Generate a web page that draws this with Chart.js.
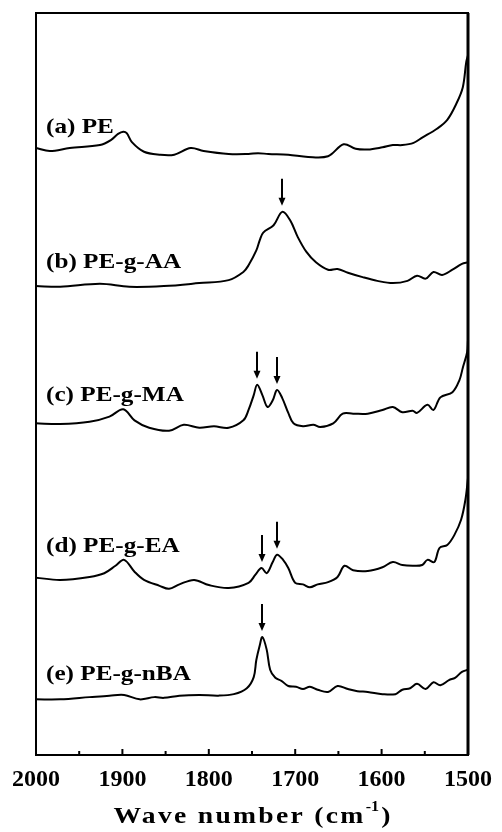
<!DOCTYPE html>
<html>
<head>
<meta charset="utf-8">
<script src="https://cdn.jsdelivr.net/npm/chart.js@4/dist/chart.umd.min.js"></script>
<style>
  html, body { margin: 0; padding: 0; background: #fff; }
  canvas { display: block; }
</style>
</head>
<body>
<canvas id="ftir" width="502" height="832"></canvas>
<script>
// FTIR spectra of PE and grafted PE samples, stacked (absorbance, arbitrary units)
const seriesNames = ['(a) PE', '(b) PE-g-AA', '(c) PE-g-MA', '(d) PE-g-EA', '(e) PE-g-nBA'];

const waveA = [2000,1984,1961,1926,1913,1905,1899,1895,1889,1875,1857,1840,1821,1806,1777,1754,1743,1731,1708,1685,1662,1644,1630,1616,1599,1587,1576,1563,1553,1536,1524,1513,1506,1502,1500];
const absA  = [81.8,81.4,81.8,82.2,82.9,83.7,84.0,83.8,82.6,81.3,80.9,80.9,81.8,81.4,81.0,81.0,81.1,81.0,80.9,80.6,80.7,82.3,81.7,81.6,81.9,82.2,82.2,82.5,83.2,84.4,85.6,87.9,90.0,93.4,94.3];

const waveB = [2000,1972,1926,1892,1852,1811,1777,1760,1754,1745,1741,1737,1725,1715,1706,1697,1687,1676,1662,1651,1639,1622,1605,1587,1570,1559,1549,1540,1530,1518,1507,1500];
const absB  = [63.2,63.1,63.5,63.1,63.2,63.6,64.0,65.1,66.0,68.0,69.4,70.4,71.4,73.2,72.1,69.8,67.8,66.4,65.4,65.5,65.0,64.4,63.9,63.6,63.9,64.6,64.2,65.1,64.7,65.4,66.2,66.4];

const waveC = [2000,1972,1938,1915,1899,1886,1869,1846,1829,1811,1794,1777,1760,1754,1748,1744,1738,1732,1726,1721,1715,1708,1702,1691,1679,1671,1656,1645,1633,1616,1599,1587,1576,1564,1559,1547,1540,1532,1518,1510,1506,1501,1500];
const absC  = [44.7,44.6,44.9,45.6,46.6,45.1,44.1,43.7,44.5,44.1,44.3,44.1,45.1,46.5,48.5,49.9,48.5,46.9,47.8,49.2,48.1,46.1,44.7,44.3,44.5,44.2,44.7,46.0,46.0,46.0,46.5,46.9,46.2,46.4,46.1,47.2,46.5,48.2,48.9,50.5,52.2,54.3,55.9];

const waveD = [2000,1972,1938,1921,1908,1898,1886,1875,1857,1846,1834,1817,1800,1777,1754,1746,1739,1733,1726,1721,1714,1708,1700,1691,1683,1674,1662,1651,1643,1633,1616,1599,1587,1576,1564,1553,1547,1539,1533,1524,1516,1508,1503,1500];
const absD  = [23.9,23.6,24.0,24.5,25.5,26.3,24.7,23.6,22.8,22.4,23.0,23.6,22.9,22.5,23.2,24.3,25.2,24.5,26.0,27.0,26.3,25.2,23.2,23.0,22.6,23.0,23.3,24.0,25.5,24.9,24.8,25.3,26.0,25.6,25.5,25.6,26.3,26.0,27.9,28.3,29.6,31.7,34.4,37.3];

const waveE = [2000,1972,1938,1915,1898,1880,1863,1852,1834,1811,1789,1771,1756,1748,1745,1741,1738,1733,1729,1723,1716,1708,1699,1691,1683,1674,1662,1651,1639,1628,1616,1599,1584,1576,1567,1559,1549,1540,1532,1522,1515,1507,1500];
const absE  = [7.5,7.5,7.8,8.0,8.1,7.5,7.8,7.7,8.0,8.1,8.0,8.2,9.0,10.5,12.8,14.8,15.9,14.2,11.5,10.4,10.0,9.3,9.2,8.9,9.2,8.8,8.5,9.3,8.9,8.6,8.5,8.2,8.2,8.8,9.0,9.6,8.9,9.8,9.4,10.1,10.4,11.2,11.5];

// carbonyl bands marked with arrows, per spectrum (cm-1)
const peaksA = [];
const peaksB = [1715];
const peaksC = [1744, 1721];
const peaksD = [1739, 1721];
const peaksE = [1738];

const xTickValues = [2000, 1900, 1800, 1700, 1600, 1500];
const xMinorValues = [1950, 1850, 1750, 1650, 1550];

const waves = [waveA, waveB, waveC, waveD, waveE];
const absorb = [absA, absB, absC, absD, absE];
const peaks = [peaksA, peaksB, peaksC, peaksD, peaksE];

const SERIF = '"Liberation Serif", "Times New Roman", serif';

const datasets = seriesNames.map((name, i) => ({
  label: name,
  data: waves[i].map((w, k) => ({ x: w, y: absorb[i][k] })),
  borderColor: '#000',
  borderWidth: 2,
  pointRadius: 0,
  tension: 0.35,
  fill: false
}));

function valueAt(ds, w) {
  const d = ds.data;
  for (let k = 0; k < d.length - 1; k++) {
    const a = d[k], b = d[k + 1];
    if ((w <= a.x && w >= b.x) || (w >= a.x && w <= b.x)) {
      const t = (w - a.x) / (b.x - a.x || 1);
      return a.y + t * (b.y - a.y);
    }
  }
  return d[d.length - 1].y;
}

const decorations = {
  id: 'decorations',
  afterDatasetsDraw(chart) {
    const { ctx, chartArea: ca, scales: { x, y } } = chart;
    ctx.save();
    ctx.strokeStyle = '#000';
    ctx.fillStyle = '#000';

    // frame
    ctx.lineWidth = 2;
    ctx.strokeRect(ca.left, ca.top, ca.right - ca.left, ca.bottom - ca.top);
    ctx.lineWidth = 3;
    ctx.beginPath();
    ctx.moveTo(ca.right, ca.top); ctx.lineTo(ca.right, ca.bottom);
    ctx.stroke();

    // inward ticks on the bottom axis
    ctx.lineWidth = 2;
    xTickValues.forEach(v => {
      const px = x.getPixelForValue(v);
      ctx.beginPath(); ctx.moveTo(px, ca.bottom); ctx.lineTo(px, ca.bottom - 6); ctx.stroke();
    });
    xMinorValues.forEach(v => {
      const px = x.getPixelForValue(v);
      ctx.beginPath(); ctx.moveTo(px, ca.bottom); ctx.lineTo(px, ca.bottom - 4); ctx.stroke();
    });

    // arrows over the marked bands
    chart.data.datasets.forEach((ds, i) => {
      peaks[i].forEach(w => {
        const px = Math.round(x.getPixelForValue(w));
        const tip = y.getPixelForValue(valueAt(ds, w)) - 6;
        const top = tip - 27;
        ctx.lineWidth = 2;
        ctx.beginPath(); ctx.moveTo(px, top); ctx.lineTo(px, tip - 6); ctx.stroke();
        ctx.beginPath();
        ctx.moveTo(px - 3.5, tip - 8);
        ctx.lineTo(px + 3.5, tip - 8);
        ctx.lineTo(px, tip);
        ctx.closePath();
        ctx.fill();
      });
    });

    // spectrum names
    const gaps = [15, 18, 22, 26, 19];
    ctx.font = 'bold 21px ' + SERIF;
    ctx.textBaseline = 'alphabetic';
    ctx.textAlign = 'left';
    chart.data.datasets.forEach((ds, i) => {
      const by = y.getPixelForValue(ds.data[0].y) - gaps[i];
      ctx.save();
      ctx.translate(ca.left + 10, by);
      ctx.scale(1.2, 1);
      ctx.fillText(ds.label, 0, 0);
      ctx.restore();
    });

    // axis title with superscript, drawn slightly widened
    const main = 'Wave number (cm';
    const sup = '-1';
    const close = ')';
    const sx = 1.15;
    const mainFont = 'bold 24px ' + SERIF;
    const supFont = 'bold 14px ' + SERIF;
    ctx.font = mainFont;
    ctx.letterSpacing = '2px';
    const wMain = ctx.measureText(main).width;
    ctx.letterSpacing = '0px';
    const wClose = ctx.measureText(close).width;
    ctx.font = supFont;
    const wSup = ctx.measureText(sup).width + 2;
    const total = (wMain + wSup + wClose) * sx;
    const base = 823;
    ctx.save();
    ctx.translate((ca.left + ca.right) / 2 - total / 2, base);
    ctx.scale(sx, 1);
    ctx.font = mainFont;
    ctx.letterSpacing = '2px';
    ctx.fillText(main, 0, 0);
    ctx.font = supFont;
    ctx.letterSpacing = '0px';
    ctx.fillText(sup, wMain, -12);
    ctx.font = mainFont;
    ctx.fillText(close, wMain + wSup, 0);
    ctx.restore();
    ctx.restore();
  }
};

new Chart(document.getElementById('ftir'), {
  type: 'line',
  data: { datasets },
  options: {
    responsive: false,
    animation: false,
    events: [],
    layout: { padding: { left: 36, right: 31, top: 13, bottom: 0 } },
    plugins: { legend: { display: false }, tooltip: { enabled: false } },
    scales: {
      x: {
        type: 'linear',
        reverse: true,
        min: 1500,
        max: 2000,
        afterBuildTicks: s => { s.ticks = xTickValues.map(v => ({ value: v })); },
        afterFit: s => { s.height = 77; },
        grid: { display: false, drawTicks: false },
        border: { display: false },
        ticks: {
          autoSkip: false,
          maxRotation: 0,
          padding: 10,
          color: '#000',
          font: { family: SERIF, size: 24, weight: 'bold' },
          callback: v => String(v)
        }
      },
      y: { display: false, min: 0, max: 100 }
    }
  },
  plugins: [decorations]
});
</script>
</body>
</html>
